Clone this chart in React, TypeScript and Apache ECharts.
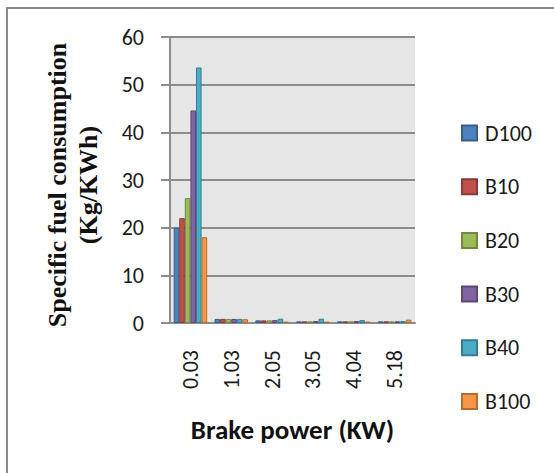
import React, { useEffect, useRef } from "react";
import * as echarts from "echarts";

const categories = ["0.03", "1.03", "2.05", "3.05", "4.04", "5.18"];
const seriesNames = ["D100", "B10", "B20", "B30", "B40", "B100"];
const d100 = [20.0, 0.85, 0.55, 0.35, 0.35, 0.35];
const b10 = [22.0, 0.85, 0.55, 0.35, 0.35, 0.35];
const b20 = [26.2, 0.85, 0.55, 0.35, 0.35, 0.35];
const b30 = [44.6, 0.85, 0.6, 0.4, 0.4, 0.35];
const b40 = [53.6, 0.85, 0.9, 0.9, 0.6, 0.4];
const b100 = [18.0, 0.8, 0.3, 0.3, 0.3, 0.7];
const seriesValues = [d100, b10, b20, b30, b40, b100];
const fills = ["#4F81BD", "#C0504D", "#9BBB59", "#8064A2", "#4BACC6", "#F79646"];
const borders = ["#385D8A", "#8C3836", "#71893F", "#5C4776", "#357D91", "#B66D31"];

export default function App() {
  const ref = useRef<HTMLDivElement>(null);
  useEffect(() => {
    if (!ref.current) return;
    const chart = echarts.init(ref.current, undefined, { renderer: "svg" });
    const sans = "Carlito, Lato, sans-serif";
    chart.setOption({
      animation: false,
      backgroundColor: "#ffffff",
      graphic: [
        {
          type: "rect",
          z: -1,
          shape: { x: 7, y: 8, width: 600, height: 500 },
          style: { fill: "none", stroke: "#8a8a8a", lineWidth: 2 },
        },
      ],
      grid: {
        left: 170,
        top: 37,
        right: 139,
        bottom: 150,
        show: true,
        backgroundColor: "#e6e6e6",
        borderWidth: 0,
      },
      legend: {
        orient: "vertical",
        left: 456,
        top: 117,
        itemWidth: 15,
        itemHeight: 15,
        itemGap: 31.7,
        icon: "rect",
        data: seriesNames,
        textStyle: {
          fontFamily: sans,
          fontSize: 22,
          color: "#1a1a1a",
          lineHeight: 15,
          padding: [0, 0, 0, 3],
        },
      },
      xAxis: {
        type: "category",
        data: categories,
        axisLine: { show: true, lineStyle: { color: "#8c8c8c", width: 2 } },
        axisTick: { show: false },
        axisLabel: {
          rotate: 90,
          margin: 27,
          fontFamily: sans,
          fontSize: 22,
          color: "#1a1a1a",
        },
        name: "Brake power (KW)",
        nameLocation: "middle",
        nameGap: 93,
        nameTextStyle: {
          fontFamily: sans,
          fontSize: 27,
          fontWeight: "bold",
          color: "#111",
        },
      },
      yAxis: {
        type: "value",
        min: 0,
        max: 60,
        interval: 10,
        axisLine: { show: true, lineStyle: { color: "#8c8c8c", width: 2 } },
        axisTick: { show: true, length: 9, lineStyle: { color: "#8c8c8c", width: 2 } },
        splitLine: { show: true, lineStyle: { color: "#8c8c8c", width: 2 } },
        axisLabel: {
          margin: 26,
          fontFamily: sans,
          fontSize: 22,
          color: "#1a1a1a",
        },
        name: "Specific fuel consumption\n(Kg/KWh)",
        nameLocation: "middle",
        nameGap: 66,
        nameTextStyle: {
          fontFamily: "'Liberation Serif', 'Times New Roman', serif",
          fontSize: 26,
          fontWeight: "bold",
          color: "#111",
          lineHeight: 31,
          align: "center",
          padding: [0, 10, 0, 0],
        },
      },
      series: seriesNames.map((name, i) => ({
        name,
        type: "bar",
        data: seriesValues[i],
        barGap: "0%",
        barCategoryGap: "18%",
        itemStyle: { color: fills[i], borderColor: borders[i], borderWidth: 1 },
      })),
    });
    return () => chart.dispose();
  }, []);
  return (
    <div
      ref={ref}
      style={{ position: "absolute", left: 0, top: 0, width: 554, height: 473 }}
    />
  );
}
